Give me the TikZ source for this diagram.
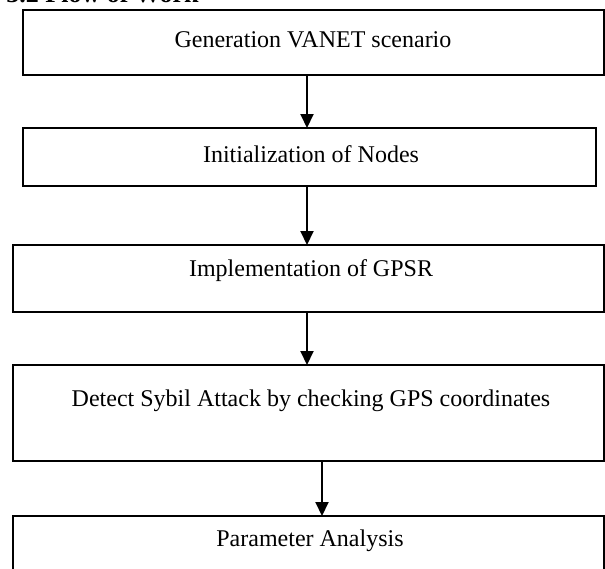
\documentclass[tikz,border=0pt]{standalone}
\usepackage{fontspec}
\setmainfont{Liberation Serif}
\usetikzlibrary{arrows.meta}
\tikzset{
	fase/.style={draw, line width=0.8pt, rectangle, inner sep=0pt, outer sep=0pt, anchor=north west},
	testo/.style={font=\fontsize{12}{14}\selectfont},
	freccia/.style={-{Triangle[length=7pt,width=6.5pt]}, line width=1pt},
}
\begin{document}
\begin{tikzpicture}[x=0.5pt,y=-0.5pt]
		\useasboundingbox (0,0) rectangle (605,568);
		\node[anchor=base west, inner sep=0pt, font=\bfseries\fontsize{13}{15}\selectfont] (titolo) at (6,2.5) {3.2 Flow of Work}; % tagliato in alto
		\node[fase, minimum width=290.5pt, minimum height=32.5pt] (b1) at (23,10) {};
		\node[testo] (t1) at (313,40) {Generation VANET scenario};
		\node[fase, line width=1.1pt, minimum width=286.5pt, minimum height=29pt] (b2) at (23,128) {};
		\node[testo] (t2) at (311,154) {Initialization of Nodes};
		\node[fase, minimum width=295.5pt, minimum height=33.5pt] (b3) at (13,245) {};
		\node[testo] (t3) at (311,271) {Implementation of GPSR};
		\node[fase, minimum width=295.5pt, minimum height=48pt] (b4) at (13,365) {};
		\node[testo] (t4) at (311,401) {Detect Sybil Attack by checking GPS coordinates};
		\node[fase, minimum width=295.5pt, minimum height=30pt] (b5) at (13,516) {}; % esce dal bordo
		\node[testo] (t5) at (310,541) {Parameter Analysis};
		\coordinate (asse) at (307,0);
		\coordinate (asse2) at (322,0);
		\draw[freccia] (b1.south -| asse) -- (b2.north -| asse);
		\draw[freccia] (b2.south -| asse) -- (b3.north -| asse);
		\draw[freccia] (b3.south -| asse) -- (b4.north -| asse);
		\draw[freccia] (b4.south -| asse2) -- (b5.north -| asse2); % un po' a destra
	\end{tikzpicture}
\end{document}
